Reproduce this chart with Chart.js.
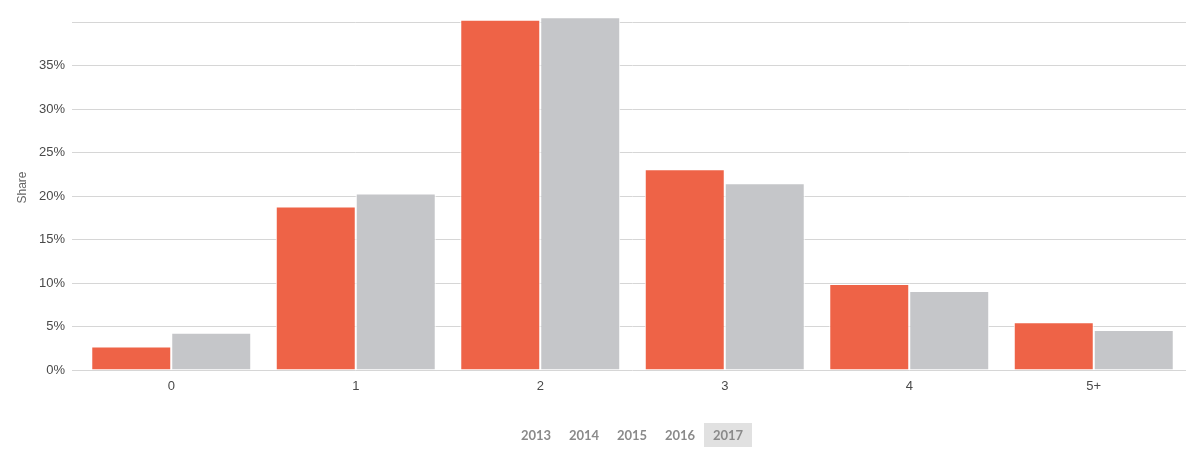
<!DOCTYPE html>
<html>
<head>
<meta charset="utf-8">
<script src="https://cdn.jsdelivr.net/npm/chart.js@4/dist/chart.umd.min.js"></script>
<style>
  html, body { margin: 0; padding: 0; background: #fff; }
  #wrap { position: relative; width: 1192px; height: 457px; }
  #chart { position: absolute; left: 0; top: 0; }
  #years { position: absolute; left: 512px; top: 423px; height: 24px; white-space: nowrap; font-size: 0; }
  #years span { display: inline-block; width: 48px; height: 24px; line-height: 25px; text-align: center;
    font-family: Lato, "Open Sans", sans-serif; font-weight: bold; font-size: 13px; color: #8a8a8a; }
  #years span.active { background: #e1e1e1; }
</style>
</head>
<body>
<div id="wrap">
  <canvas id="chart" width="1192" height="457"></canvas>
  <div id="years"></div>
</div>
<script>
const categories = ['0', '1', '2', '3', '4', '5+'];
const seriesNames = ['2017', 'Average'];
const selectedYearShares = [2.7, 18.8, 40.3, 23.1, 9.9, 5.5];
const comparisonShares = [4.3, 20.3, 40.6, 21.5, 9.1, 4.6];
const yearButtons = ['2013', '2014', '2015', '2016', '2017'];
const activeYear = '2017';
const yTickStep = 5;
const yMax = 42;

const yearsDiv = document.getElementById('years');
yearButtons.forEach(y => {
  const s = document.createElement('span');
  s.textContent = y;
  if (y === activeYear) s.className = 'active';
  yearsDiv.appendChild(s);
});

new Chart(document.getElementById('chart'), {
  type: 'bar',
  data: {
    labels: categories,
    datasets: [
      { label: seriesNames[0], data: selectedYearShares, backgroundColor: '#ee6347', borderColor: '#ffffff', borderWidth: 1 },
      { label: seriesNames[1], data: comparisonShares, backgroundColor: '#c5c6c9', borderColor: '#ffffff', borderWidth: 1 }
    ]
  },
  options: {
    responsive: false,
    animation: false,
    layout: { padding: { top: 5, right: 6, left: 0, bottom: 0 } },
    plugins: { legend: { display: false }, tooltip: { enabled: false } },
    datasets: { bar: { categoryPercentage: 0.867, barPercentage: 1 } },
    scales: {
      x: {
        grid: { display: false, drawTicks: false },
        border: { display: false },
        ticks: { padding: 9, color: '#4a4a4a', font: { family: 'Liberation Sans, Arial, sans-serif', size: 13 } },
        afterFit: s => { s.height = 87; s.paddingLeft = 0; s.paddingRight = 0; }
      },
      y: {
        min: 0,
        max: yMax,
        border: { display: false },
        grid: { color: '#d6d6d6', lineWidth: 1, drawTicks: true, tickLength: 7 },
        ticks: {
          stepSize: yTickStep,
          padding: 7,
          color: '#4a4a4a',
          font: { family: 'Liberation Sans, Arial, sans-serif', size: 13 },
          callback: v => (v === 40 ? '' : v + '%')
        },
        afterBuildTicks: s => { s.ticks = s.ticks.filter(t => t.value % yTickStep === 0); },
        title: { display: true, text: 'Share', color: '#666', padding: { top: 15, bottom: 0 },
          font: { family: 'Liberation Sans, Arial, sans-serif', size: 12 } },
        afterFit: s => { s.width = 79; s.paddingTop = 0; s.paddingBottom = 0; }
      }
    }
  }
});
</script>
</body>
</html>
